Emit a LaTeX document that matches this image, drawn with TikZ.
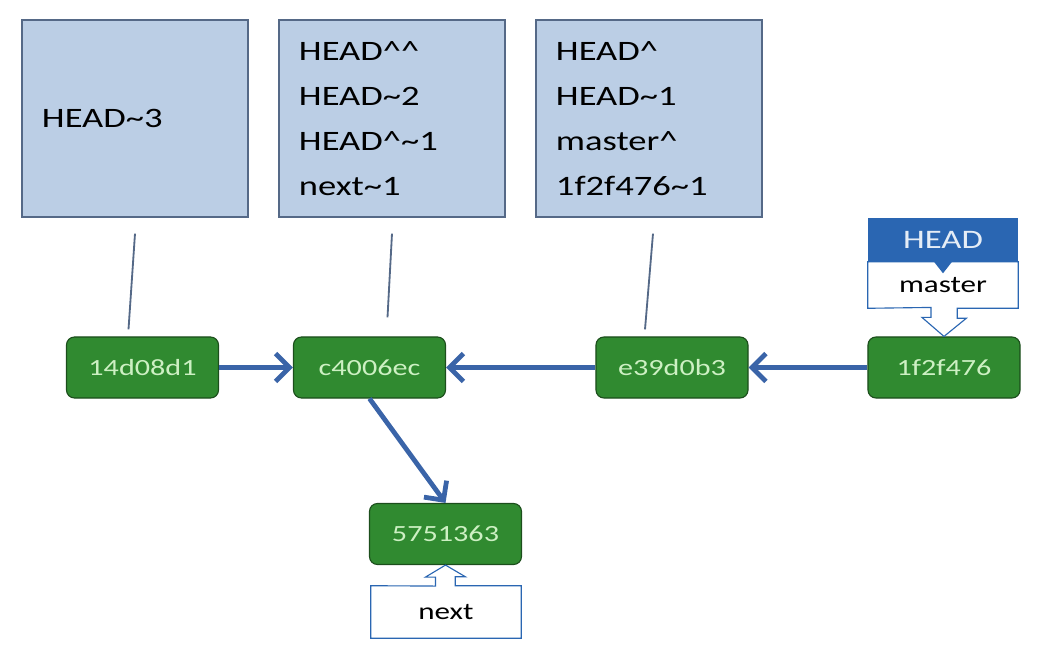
\documentclass[tikz,border=0pt]{standalone}
\usepackage{fontspec}
\setmainfont{Carlito}[FakeStretch=1.3]
\usetikzlibrary{arrows.meta,positioning,calc}
\definecolor{notefill}{RGB}{187,206,229}
\definecolor{noteline}{RGB}{85,105,135}
\definecolor{commitfill}{RGB}{48,138,48}
\definecolor{commitline}{RGB}{28,78,28}
\definecolor{committext}{RGB}{205,240,195}
\definecolor{headblue}{RGB}{42,102,178}
\definecolor{arrowblue}{RGB}{58,100,168}
\newcommand{\gtilde}{\textasciitilde}
\newcommand{\gcaret}{\textasciicircum}

\begin{document}
\begin{tikzpicture}[
      x=0.025cm, y=-0.025cm,
      note/.style={rectangle,draw=noteline,thick,fill=notefill,align=left,
                   text width=4.65cm,inner xsep=0.5cm,minimum height=4.925cm,
                   font=\fontsize{20}{32}\selectfont},
      commit/.style={rectangle,draw=commitline,thick,fill=commitfill,rounded corners=0.2cm,
                     minimum width=3.8cm,minimum height=1.525cm,text=committext,
                     font=\fontsize{16.5}{18}\selectfont},
      tag/.style={rectangle,minimum width=3.75cm,inner sep=0pt,font=\fontsize{17}{19}\selectfont},
      tagline/.style={draw=headblue,thick,fill=white},
      link/.style={line width=3.4pt,arrowblue,->},
      pointer/.style={noteline,line width=1.3pt},
      >={Straight Barb[length=3.5mm,width=7mm]}
  ]
  \useasboundingbox (0,0) rectangle (1048,659);

  % ===================== notes =====================
  \node[note] (note1) at (135,118.5) {HEAD\gtilde3};
  \node[note] (note2) at (392,118.5) {HEAD\gcaret\gcaret\\HEAD\gtilde2\\HEAD\gcaret\gtilde1\\next\gtilde1};
  \node[note] (note3) at (649,118.5) {HEAD\gcaret\\HEAD\gtilde1\\master\gcaret\\1f2f476\gtilde1};

  % ===================== commits =====================
  \node[commit] (c14) at (142.5,367.5) {14d08d1};
  \node[commit] (cc4) at (369.5,367.5) {c4006ec};
  \node[commit] (ce3) at (672,367.5) {e39d0b3};
  \node[commit] (c1f) at (944,367.5) {1f2f476};
  \node[commit] (c57) at (445.5,534) {5751363};

  % parents
  \draw[link] (c14.east) -- (cc4.west);
  \draw[link] (ce3.west) -- (cc4.east);
  \draw[link] (c1f.west) -- (ce3.east);
  \draw[link] (cc4.south) -- (c57.north);

  % note pointers
  \coordinate (p1a) at ($(note1.south)+(0,16)$);
  \coordinate (p1b) at ($(c14.north)+(-14,-7)$);
  \coordinate (p2a) at ($(note2.south)+(0,16)$);
  \coordinate (p2b) at ($(cc4.north)+(18,-19)$);
  \coordinate (p3a) at ($(note3.south)+(4,16)$);
  \coordinate (p3b) at ($(ce3.north)+(-27,-7)$);
  \draw[pointer] (p1a) -- (p1b);
  \draw[pointer] (p2a) -- (p2b);
  \draw[pointer] (p3a) -- (p3b);

  % ===================== refs =====================
  \node[tag,minimum height=1.15cm] (master) at (943,285) {};
  \draw[tagline] (master.north west) -- (master.north east) -- (master.south east)
      -- ++(-61,0) -- ++(0,10) -- ++(9,0) -- (c1f.north) -- ++(-22,-19) -- ++(9,0)
      -- ++(0,-10) -- (master.south west) -- cycle;
  \node[font=\fontsize{17}{19}\selectfont] (mastertxt) at (master) {master};

  \node[tag,minimum height=1.1cm,fill=headblue,text=white!88!headblue,
        font=\fontsize{19}{21}\selectfont] (head) at (943,240) {HEAD};
  \fill[headblue] ($(head.south)+(-9,-0.5)$) -- ($(head.south)+(0,11)$)
      -- ($(head.south)+(9,-0.5)$) -- cycle;

  \node[tag,minimum height=1.3cm] (next) at (446,612) {};
  \draw[tagline] (next.south west) -- (next.south east) -- (next.north east)
      -- ++(-66,0) -- ++(0,-9) -- ++(10,0) -- (c57.south) -- ++(-20,12) -- ++(10,0)
      -- ++(0,9) -- (next.north west) -- cycle;
  \node[font=\fontsize{17}{19}\selectfont] (nexttxt) at (next) {next};

\end{tikzpicture}
\end{document}
